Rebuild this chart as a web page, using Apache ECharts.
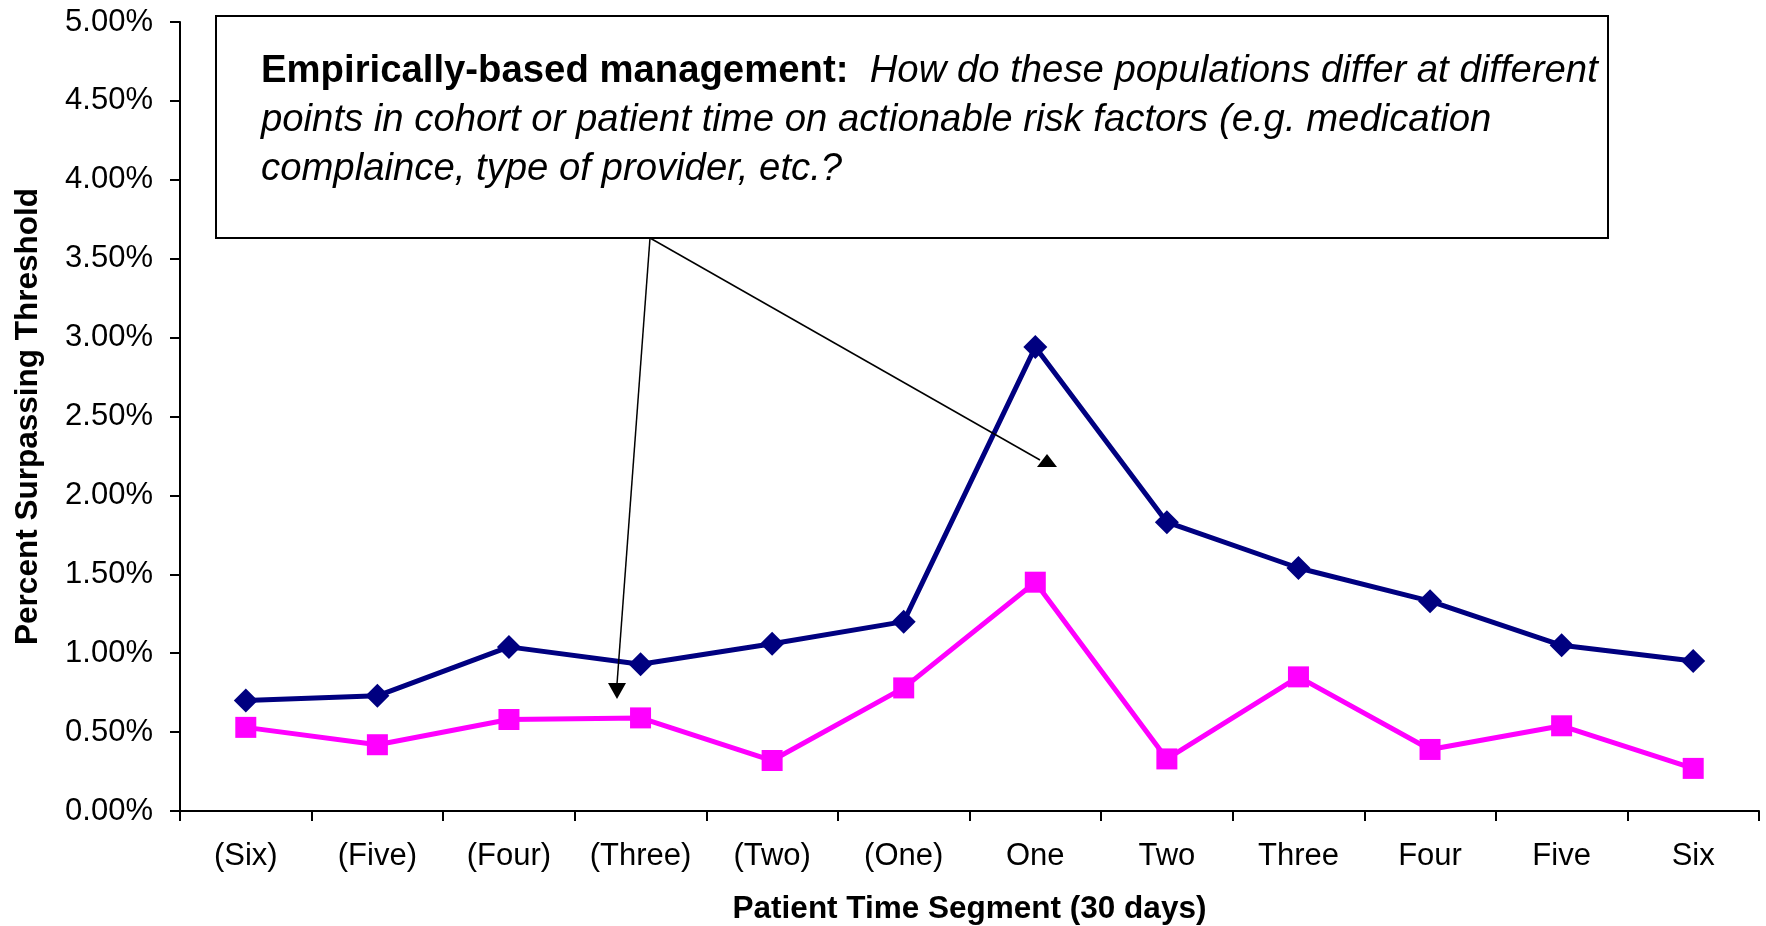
<!DOCTYPE html>
<html>
<head>
<meta charset="utf-8">
<script src="https://cdn.jsdelivr.net/npm/echarts@6/dist/echarts.min.js"></script>
<style>
html,body{margin:0;padding:0;background:#fff;}
#chart{width:1766px;height:926px;}
</style>
</head>
<body>
<div id="chart"></div>
<script>
const categories = ['(Six)','(Five)','(Four)','(Three)','(Two)','(One)','One','Two','Three','Four','Five','Six'];
const seriesA = [0.70,0.73,1.04,0.93,1.06,1.20,2.94,1.83,1.54,1.33,1.05,0.95];
const seriesB = [0.53,0.42,0.58,0.59,0.32,0.78,1.45,0.33,0.85,0.39,0.54,0.27];
const yTicks = {min:0, max:5, interval:0.5};
const xTitle = 'Patient Time Segment (30 days)';
const yTitle = 'Percent Surpassing Threshold';
const noteBold = 'Empirically-based management:';
const noteLines = ['How do these populations differ at different','points in cohort or patient time on actionable risk factors (e.g. medication','complaince, type of provider, etc.?'];

const FONT = '"Liberation Sans", Arial, sans-serif';
const chart = echarts.init(document.getElementById('chart'));

const option = {
  animation:false,
  backgroundColor:'#fff',
  grid:{left:180, right:7, top:22, bottom:115, containLabel:false, outerBoundsMode:'none'},
  xAxis:{
    type:'category', data:categories, boundaryGap:true,
    axisLine:{lineStyle:{color:'#000', width:2}},
    axisTick:{show:true, interval:0, length:10, lineStyle:{color:'#000', width:2}},
    axisLabel:{interval:0, hideOverlap:false, color:'#000', fontFamily:FONT, fontSize:31, margin:30},
    name:xTitle, nameLocation:'middle', nameGap:82,
    nameTextStyle:{color:'#000', fontFamily:FONT, fontSize:31.5, fontWeight:'bold'}
  },
  yAxis:{
    type:'value', min:yTicks.min, max:yTicks.max, interval:yTicks.interval,
    axisLine:{show:true, lineStyle:{color:'#000', width:2}},
    axisTick:{show:true, length:10, lineStyle:{color:'#000', width:2}},
    splitLine:{show:false},
    axisLabel:{color:'#000', fontFamily:FONT, fontSize:31, margin:27,
      formatter:v=>v.toFixed(2)+'%'},
    name:yTitle, nameLocation:'middle', nameGap:136, nameRotate:90,
    nameTextStyle:{color:'#000', fontFamily:FONT, fontSize:31.5, fontWeight:'bold'}
  },
  series:[
    {type:'line', data:seriesA, symbol:'diamond', symbolSize:24,
     lineStyle:{color:'#000080', width:5}, itemStyle:{color:'#000080'}, z:3},
    {type:'line', data:seriesB, symbol:'rect', symbolSize:21,
     lineStyle:{color:'#ff00ff', width:5}, itemStyle:{color:'#ff00ff'}, z:2}
  ],
  graphic:[
    {type:'rect', shape:{x:216, y:16, width:1392, height:222},
     style:{fill:'#fff', stroke:'#000', lineWidth:2}, z:10},
    {type:'text', left:261, top:47, z:11,
     style:{
       text:'{b|'+noteBold+'}  {i|'+noteLines[0]+'}\n{i|'+noteLines[1]+'}\n{i|'+noteLines[2]+'}',
       fontFamily:FONT, fontSize:38.3, lineHeight:49, fill:'#000',
       rich:{
         b:{fontFamily:FONT, fontSize:38.3, fontWeight:'bold', lineHeight:49, fill:'#000'},
         i:{fontFamily:FONT, fontSize:38.3, fontStyle:'italic', lineHeight:49, fill:'#000'}
       }
     }},
    {type:'line', shape:{x1:650, y1:238, x2:617, y2:684}, style:{stroke:'#000', lineWidth:1.5}, z:12},
    {type:'polygon', shape:{points:[[608,683],[626,683],[617,699]]}, style:{fill:'#000'}, z:12},
    {type:'line', shape:{x1:650, y1:238, x2:1040, y2:460}, style:{stroke:'#000', lineWidth:1.5}, z:12},
    {type:'polygon', shape:{points:[[1037,467],[1057,467],[1047,454]]}, style:{fill:'#000'}, z:12}
  ]
};
chart.setOption(option);
</script>
</body>
</html>
